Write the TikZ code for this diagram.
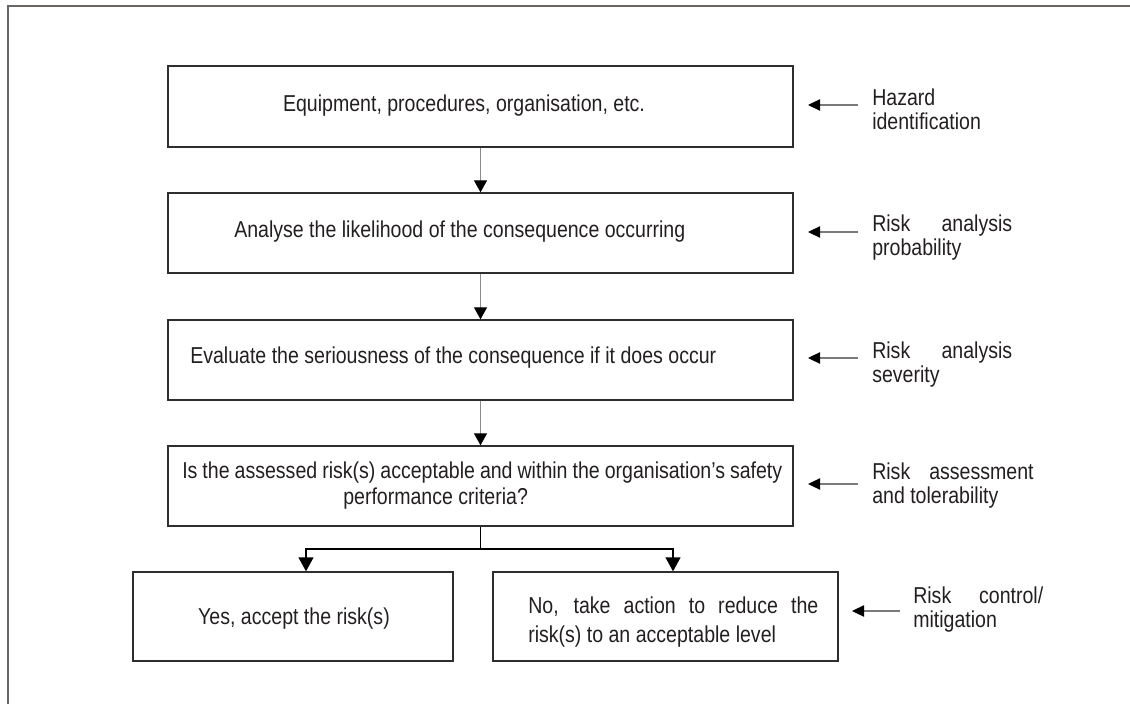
\documentclass[tikz,border=0pt]{standalone}
\usepackage{fontspec}
\setmainfont[FakeStretch=0.85]{Liberation Sans}
\usetikzlibrary{arrows.meta,calc}
\definecolor{framegray}{HTML}{6B6661}
\definecolor{boxline}{HTML}{2E2E2E}
\definecolor{flowgray}{HTML}{8C8C8C}
\definecolor{sidegray}{HTML}{7A7A7A}
\definecolor{ink}{HTML}{231F20}
\begin{document}
\begin{tikzpicture}[x=0.75pt,y=-0.75pt,
  box/.style={draw=boxline, line width=1pt, inner sep=0pt},
  txt/.style={text=ink, inner sep=0pt, align=left, font=\fontsize{17.25pt}{19.5pt}\selectfont},
  lbl/.style={text=ink, inner sep=0pt, align=left, anchor=west, font=\fontsize{17.25pt}{18pt}\selectfont},
  flow/.style={draw=flowgray, line width=0.9pt, -{Triangle[length=9pt,width=9.75pt,color=black]}},
  side/.style={draw=sidegray, line width=0.8pt, -{Triangle[length=9pt,width=8.5pt,color=black]}},
  branch/.style={draw=black, line width=1pt},
  framestyle/.style={draw=framegray, line width=1.6pt}
]
\useasboundingbox (0,0) rectangle (1130,705);
% frame
\coordinate (ftr) at (1130,6);
\coordinate (ftl) at (8,6);
\coordinate (fbl) at (8,704);
\draw[framestyle] (ftr) -- (ftl) -- (fbl);

% boxes
\node[box, minimum width=468.75pt, minimum height=60.75pt] (b1) at (480.5,106.5) {};
\node[box, minimum width=468.75pt, minimum height=60pt] (b2) at (480.5,233) {};
\node[box, minimum width=468.75pt, minimum height=60pt] (b3) at (480.5,360) {};
\node[box, minimum width=468.75pt, minimum height=60pt] (b4) at (480.5,486) {};
\node[box, minimum width=240pt, minimum height=66.75pt] (yes) at (293,616.5) {};
\node[box, minimum width=258.75pt, minimum height=66.75pt] (no) at (665.5,616.5) {};

% box texts
\node[txt] (t1) at (464,106) {Equipment, procedures, organisation, etc.};
\node[txt, anchor=west] (t2) at (234,232) {Analyse the likelihood of the consequence occurring};
\node[txt, anchor=west] (t3) at (190,358) {Evaluate the seriousness of the consequence if it does occur};
\node[txt, anchor=west] (t4) at (182,486) {\makebox[450pt][s]{Is the assessed risk(s) acceptable and within the organisation’s safety}\\\hspace*{120.75pt}performance criteria?};
\node[txt] (t5) at (294,619) {Yes, accept the risk(s)};
\node[txt, anchor=west, font=\fontsize{17.25pt}{21.75pt}\selectfont] (t6) at (528,622) {\makebox[217.5pt][s]{No, take action to reduce the}\\risk(s) to an acceptable level};

% side labels
\node[lbl] (l1) at (872,109) {Hazard\\identification};
\node[lbl] (l2) at (872,237.5) {\makebox[105pt][s]{Risk analysis}\\probability};
\node[lbl] (l3) at (872,364.5) {\makebox[105pt][s]{Risk analysis}\\severity};
\node[lbl] (l4) at (872,486) {\makebox[121pt][s]{Risk assessment}\\and tolerability};
\node[lbl] (l5) at (913,610) {\makebox[97.5pt][s]{Risk control/}\\mitigation};

% flow arrows
\draw[flow] (b1.south) -- (b2.north);
\draw[flow] (b2.south) -- (b3.north);
\draw[flow] (b3.south) -- (b4.north);

% side arrows
\coordinate (s1) at (858,105); \coordinate (e1) at (808,105);
\coordinate (s2) at (858,232); \coordinate (e2) at (808,232);
\coordinate (s3) at (858,358); \coordinate (e3) at (808,358);
\coordinate (s4) at (858,484); \coordinate (e4) at (808,484);
\coordinate (s5) at (900,611); \coordinate (e5) at (852,611);
\draw[side] (s1) -- (e1);
\draw[side] (s2) -- (e2);
\draw[side] (s3) -- (e3);
\draw[side] (s4) -- (e4);
\draw[side] (s5) -- (e5);

% branch
\coordinate (j) at (480.5,549);
\coordinate (jl) at (306,549);
\coordinate (jr) at (673,549);
\draw[branch] (b4.south) -- (j);
\draw[branch, -{Triangle[length=10.5pt,width=11.25pt]}] (j) -- (jl) -- (jl |- yes.north);
\draw[branch, -{Triangle[length=10.5pt,width=11.25pt]}] (j) -- (jr) -- (jr |- no.north);
\end{tikzpicture}
\end{document}
